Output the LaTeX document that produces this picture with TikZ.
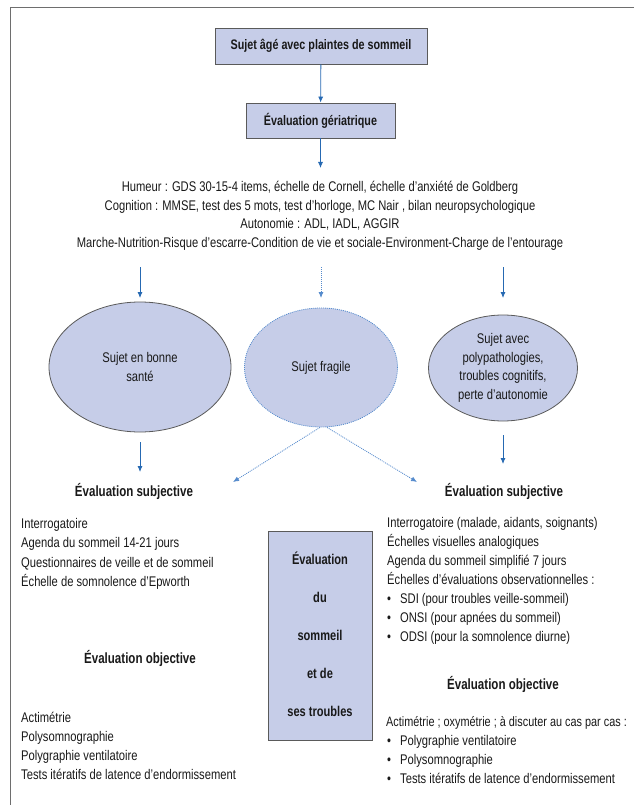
\documentclass[tikz,border=0pt]{standalone}
\usepackage{fontspec}
\setmainfont{Liberation Sans}[FakeStretch=0.80]
\newfontfamily\headfont{Liberation Sans}[FakeStretch=0.78]
\usetikzlibrary{shapes.geometric,arrows.meta}

\definecolor{boxfill}{RGB}{198,205,232}
\definecolor{boxline}{RGB}{90,90,90}
\definecolor{arrowblue}{RGB}{38,105,178}
\definecolor{dotblue}{RGB}{84,138,204}
\definecolor{framegray}{RGB}{110,110,110}
\definecolor{txt}{RGB}{25,25,25}

\tikzset{
  bodytext/.style={font=\fontsize{14}{19}\selectfont, text=txt, inner sep=0pt},
  headtext/.style={font=\headfont\bfseries\fontsize{14.8}{17}\selectfont, text=txt, inner sep=0pt},
  titlebox/.style={draw=boxline, fill=boxfill, line width=0.8pt, inner sep=0pt,
    font=\headfont\bfseries\fontsize{13.8}{16}\selectfont, text=txt},
  bubble/.style={ellipse, draw=boxline, fill=boxfill, line width=0.8pt, inner sep=0pt,
    align=center, font=\fontsize{14}{18.5}\selectfont, text=txt},
  flow/.style={-{Latex[length=6pt,width=5pt]}, draw=arrowblue, line width=0.8pt},
  dotflow/.style={flow, draw=dotblue, dash pattern=on 1pt off 1pt},
}

\begin{document}
\begin{tikzpicture}[x=1pt,y=-1pt]
\useasboundingbox (0,0) rectangle (634,805);

% page frame
\draw[framegray, line width=1pt] (634,8) -- (10,8) -- (10,805);

% top boxes
\node[titlebox, minimum width=212pt, minimum height=36pt] (start) at (321,46) {Sujet âgé avec plaintes de sommeil};
\node[titlebox, minimum width=149pt, minimum height=35pt] (geri) at (320.5,120.5) {Évaluation gériatrique};
\draw[flow] (start) -- (geri);

\coordinate (geriEnd) at (320.5,168);
\draw[flow] (geri) -- (geriEnd);

% geriatric assessment details
\foreach [count=\i] \t in {
  {Humeur : GDS 30-15-4 items, échelle de Cornell, échelle d’anxiété de Goldberg},
  {Cognition : MMSE, test des 5 mots, test d’horloge, MC Nair , bilan neuropsychologique},
  {Autonomie : ADL, IADL, AGGIR},
  {Marche-Nutrition-Risque d’escarre-Condition de vie et sociale-Environment-Charge de l’entourage}}
  \node[bodytext, anchor=base] (detail\i) at (320, {191.5+18.5*(\i-1)}) {\t};

% three patient profiles
\node[bubble, minimum width=182pt, minimum height=130pt] (healthy) at (140,367) {Sujet en bonne\\santé};
\node[bubble, draw=dotblue, dash pattern=on 1pt off 1pt, minimum width=153pt, minimum height=119pt] (frail) at (321,367.5) {Sujet fragile};
\node[bubble, minimum width=149pt, minimum height=106pt] (poly) at (503,368) {Sujet avec\\polypathologies,\\troubles cognitifs,\\perte d’autonomie};

\coordinate (aL0) at (140,267);  \coordinate (aL1) at (140,298);
\coordinate (aM0) at (321,267);  \coordinate (aM1) at (321,298);
\coordinate (aR0) at (503,267);  \coordinate (aR1) at (503,298);
\draw[flow] (aL0) -- (aL1);
\draw[dotflow] (aM0) -- (aM1);
\draw[flow] (aR0) -- (aR1);

\coordinate (bL0) at (140,442);  \coordinate (bL1) at (140,472);
\coordinate (bR0) at (503,435);  \coordinate (bR1) at (503,464);
\draw[flow] (bL0) -- (bL1);
\draw[flow] (bR0) -- (bR1);

\coordinate (fragL) at (233,482);
\coordinate (fragR) at (417,482);
\draw[dotflow] ([xshift=-1pt]frail.south) -- (fragL);
\draw[dotflow] ([xshift=6pt]frail.south) -- (fragR);

% section headings
\node[headtext, anchor=base] (subjL) at (134,496) {Évaluation subjective};
\node[headtext, anchor=base] (subjR) at (504,496) {Évaluation subjective};
\node[headtext, anchor=base] (objL) at (140,663) {Évaluation objective};
\node[headtext, anchor=base] (objR) at (503,689) {Évaluation objective};

% left column
\foreach [count=\i] \t in {
  {Interrogatoire},
  {Agenda du sommeil 14-21 jours},
  {Questionnaires de veille et de sommeil},
  {Échelle de somnolence d’Epworth}}
  \node[bodytext, anchor=base west] (lsub\i) at (21, {528.5+19.3*(\i-1)}) {\t};

\foreach [count=\i] \t in {
  {Actimétrie},
  {Polysomnographie},
  {Polygraphie ventilatoire},
  {Tests itératifs de latence d’endormissement}}
  \node[bodytext, anchor=base west] (lobj\i) at (21, {722.5+19*(\i-1)}) {\t};

% centre box
\node[titlebox, minimum width=104pt, minimum height=209pt] (centre) at (320,635.5) {};
\foreach [count=\i] \t in {Évaluation, du, sommeil, et de, ses troubles}
  \node[headtext, font=\headfont\bfseries\fontsize{14.2}{16}\selectfont, anchor=base] (ctext\i) at (320, {564.5+38*(\i-1)}) {\t};

% right column
\foreach [count=\i] \t in {
  {Interrogatoire (malade, aidants, soignants)},
  {Échelles visuelles analogiques},
  {Agenda du sommeil simplifié 7 jours},
  {Échelles d’évaluations observationnelles :},
  {\makebox[13pt][l]{•}SDI (pour troubles veille-sommeil)},
  {\makebox[13pt][l]{•}ONSI (pour apnées du sommeil)},
  {\makebox[13pt][l]{•}ODSI (pour la somnolence diurne)}}
  \node[bodytext, anchor=base west] (rsub\i) at (387, {527.5+19*(\i-1)}) {\t};

\node[bodytext, font=\fontsize{13.6}{19}\selectfont, anchor=base west] (robj1) at (386, 726.5) {Actimétrie ; oxymétrie ; à discuter au cas par cas :};
\foreach [count=\i from 2] \t in {
  {\makebox[13pt][l]{•}Polygraphie ventilatoire},
  {\makebox[13pt][l]{•}Polysomnographie},
  {\makebox[13pt][l]{•}Tests itératifs de latence d’endormissement}}
  \node[bodytext, anchor=base west] (robj\i) at (387, {726.5+19*(\i-1)}) {\t};
\end{tikzpicture}
\end{document}
